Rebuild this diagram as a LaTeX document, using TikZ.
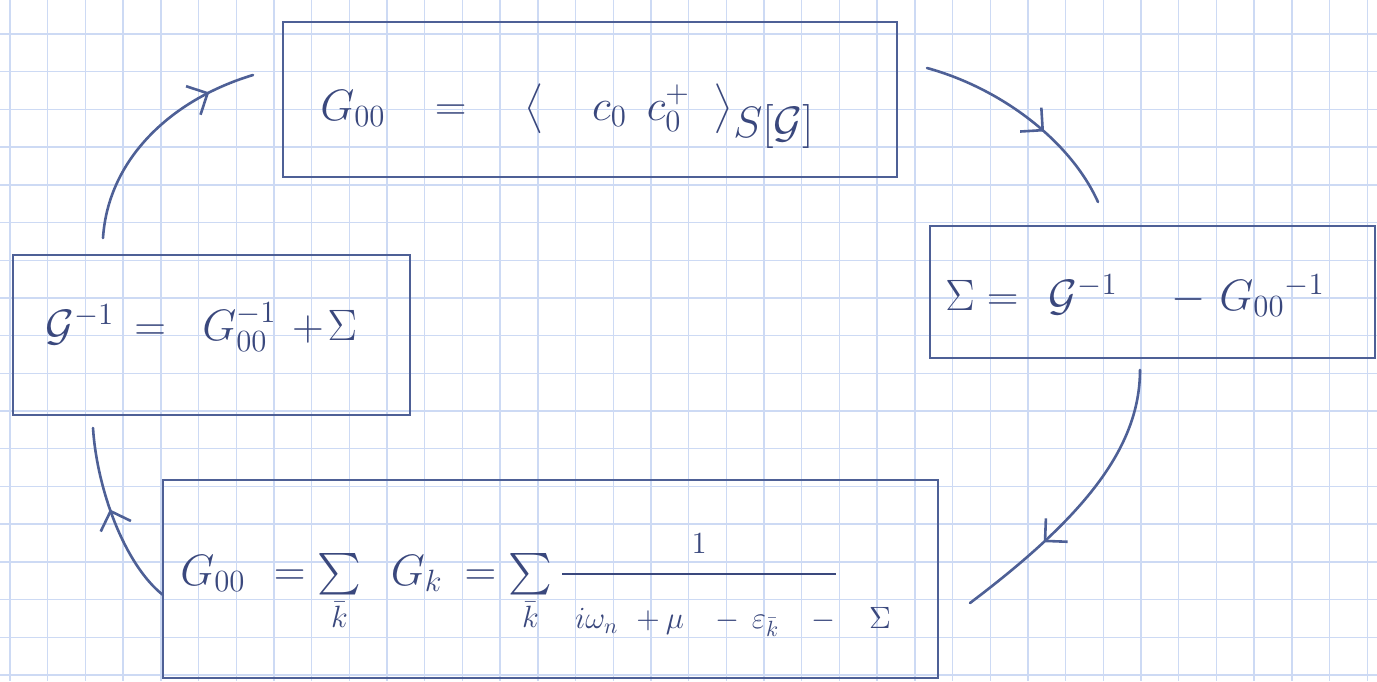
\documentclass[tikz,border=0pt]{standalone}
\usepackage{fix-cm}
\usepackage{amsmath,mathtools}
\usetikzlibrary{arrows.meta,decorations.markings}
\definecolor{gridblue}{RGB}{205,218,244}
\definecolor{ink}{RGB}{78,96,150}
\definecolor{txt}{RGB}{58,72,125}
\newcommand{\denom}{i\omega_n\hspace{9pt}+\hspace{3pt}\mu\hspace{16pt}-\hspace{6pt}\varepsilon_{\bar k}\hspace{16pt}-\hspace{17pt}\Sigma}
\begin{document}
\begin{tikzpicture}[x=0.5pt,y=-0.5pt,
  box/.style={draw=ink,line width=1.4pt,inner sep=0pt,outer sep=0pt,rectangle},
  formula/.style={text=txt,inner sep=0pt,anchor=base west,font=\fontsize{22}{26}\selectfont},
  flow/.style={draw=ink,color=ink,line width=1.3pt,line cap=round},
  midarrow/.style={decoration={markings,mark=at position #1 with {\arrow{Straight Barb[length=8pt,width=16pt]}}},postaction={decorate}},
  gridline/.style={draw=gridblue,line width=0.7pt}
]
\useasboundingbox (0,0) rectangle (1377,681);
\fill[white] (0,0) rectangle (1377,681);
\foreach \i in {0,...,36} \draw[gridline] ({10+37.7*\i},0) -- ({10+37.7*\i},681);
\foreach \j in {1,...,18} \draw[gridline] (0,{-3.7+37.7*\j}) -- (1377,{-3.7+37.7*\j});

% boxes
\node[box,minimum width=307pt,minimum height=77.5pt] (imp) at (590,99.5) {};
\node[box,minimum width=222.5pt,minimum height=66pt] (self) at (1152.5,292) {};
\node[box,minimum width=387.5pt,minimum height=99pt] (loc) at (550.5,579) {};
\node[box,minimum width=198.5pt,minimum height=80pt] (weiss) at (211.5,335) {};

% formulas
\node[formula] (fimp) at (320,120) {$G_{00}\hspace{18.5pt}=\hspace{23pt}\big\langle\hspace{24pt}c_0\hspace{10pt}c_0^{+}\hspace{12pt}\big\rangle_{\textstyle S[\mathcal{G}]}$};
\node[formula] (fself) at (945,310) {$\Sigma=\hspace{9pt}\mathcal{G}^{-1}\hspace{22pt}-\hspace{2pt}G_{00}{}^{-1}$};
\node[formula] (fweiss) at (45,340) {$\mathcal{G}^{-1}\hspace{4pt}=\hspace{12pt}G_{00}^{-1}\hspace{3pt}+\hspace{-3pt}\Sigma$};
\node[formula] (floc) at (180,585) {$G_{00}\hspace{8pt}=\sum\limits_{\bar k}\hspace{11pt}G_k\hspace{5pt}=\sum\limits_{\bar k}\frac{\rule[-9pt]{0pt}{9pt}1}{\rule{0pt}{26pt}\hspace{6.5pt}\mathrlap{\denom}\hspace{130.5pt}}$};

% free ends of the connectors
\coordinate (a1s) at (927,68);   \coordinate (a1e) at (1098,202);
\coordinate (a2s) at (1140,370); \coordinate (a2e) at (970,603);
\coordinate (a3s) at (163,595);  \coordinate (a3e) at (93,428);
\coordinate (a4s) at (103,238);  \coordinate (a4e) at (253,75);

\draw[flow,midarrow=0.6] (a1s) .. controls (1000,88) and (1070,140) .. (a1e);
\draw[flow,midarrow=0.68] (a2s) .. controls (1140,450) and (1080,520) .. (a2e);
\draw[flow,midarrow=0.55] (a3s) .. controls (125,565) and (97,490) .. (a3e);
\draw[flow,midarrow=0.8] (a4s) .. controls (108,160) and (170,100) .. (a4e);
\end{tikzpicture}
\end{document}
